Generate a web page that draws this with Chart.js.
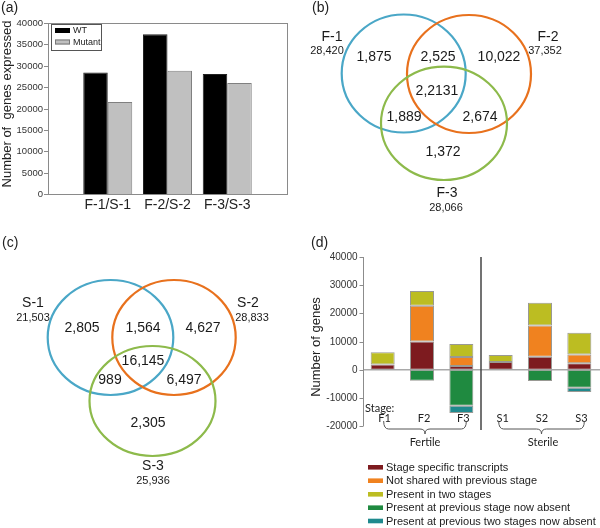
<!DOCTYPE html>
<html><head><meta charset="utf-8">
<script src="https://cdn.jsdelivr.net/npm/chart.js@4.4.1/dist/chart.umd.min.js"></script>
<style>
html,body{margin:0;padding:0;background:#fff;width:600px;height:528px;overflow:hidden}
canvas{position:absolute;display:block}
</style></head><body>
<canvas id="ca" width="300" height="230" style="left:0;top:0;width:300px;height:230px"></canvas>
<canvas id="cb" width="300" height="230" style="left:300px;top:0;width:300px;height:230px"></canvas>
<canvas id="cc" width="300" height="270" style="left:0;top:230px;width:300px;height:270px"></canvas>
<canvas id="cd" width="300" height="298" style="left:300px;top:230px;width:300px;height:298px"></canvas>
<script>
// ---------------- DATA ----------------
// (a) number of genes expressed
const CATEGORIES_A = ['F-1/S-1', 'F-2/S-2', 'F-3/S-3'];
const WT_EXPRESSED = [28420, 37352, 28066];
const MUTANT_EXPRESSED = [21503, 28833, 25936];
const SERIES_A = ['WT', 'Mutant'];
const Y_TICKS_A = [0, 5000, 10000, 15000, 20000, 25000, 30000, 35000, 40000];

// (b) fertile Venn
const FERTILE_SETS = ['F-1', 'F-2', 'F-3'];
const FERTILE_TOTALS = ['28,420', '37,352', '28,066'];
// order: only1, 1&2, only2, all, 1&3, 2&3, only3
const FERTILE_REGIONS = ['1,875', '2,525', '10,022', '2,2131', '1,889', '2,674', '1,372'];

// (c) sterile Venn
const STERILE_SETS = ['S-1', 'S-2', 'S-3'];
const STERILE_TOTALS = ['21,503', '28,833', '25,936'];
const STERILE_REGIONS = ['2,805', '1,564', '4,627', '16,145', '989', '6,497', '2,305'];

// (d) stage transitions
const STAGES = ['F1', 'F2', 'F3', 'S1', 'S2', 'S3'];
const STAGE_SPECIFIC = [1800, 10000, 1300, 2700, 4600, 2300];
const NOT_SHARED_PREV = [null, 12700, 3200, null, 11100, 3100];
const PRESENT_TWO = [4400, 5200, 4600, 2500, 8100, 7700];
const PREV_NOW_ABSENT = [null, -3900, -12800, null, -4000, -6400];
const PREV_TWO_NOW_ABSENT = [null, null, -2600, null, null, -1500];
const SERIES_D = ['Stage specific transcripts', 'Not shared with previous stage', 'Present in two stages',
                  'Present at previous stage now absent', 'Present at previous two stages now absent'];
const Y_TICKS_D = [-20000, -10000, 0, 10000, 20000, 30000, 40000];
const GROUPS_D = ['Fertile', 'Sterile'];

// ---------------- STYLE / LAYOUT ----------------
const ARIAL = '"Liberation Sans", Arial, sans-serif';
const CALIB = 'Lato, "Open Sans", sans-serif';
const COLORS_D = ['#7d1b1f', '#f0821f', '#bcbd22', '#1f8a40', '#1f8a8e'];
const VENN_COLORS = ['#4aa7c7', '#e8711d', '#8dba4b'];

function txt(ctx, s, x, y, font, align, color) {
  ctx.font = font; ctx.textAlign = align || 'center'; ctx.textBaseline = 'middle';
  ctx.fillStyle = color || '#1a1a1a'; ctx.fillText(s, x, y);
}

// ---------------- PANEL A ----------------
const plugA = {
  id: 'plugA',
  afterDraw(chart) {
    const { ctx, chartArea: a, scales: { x, y } } = chart;
    ctx.save();
    ctx.strokeStyle = '#8a8a8a'; ctx.lineWidth = 1;
    ctx.strokeRect(Math.round(a.left) + 0.5, Math.round(a.top) + 0.5, Math.round(a.right - a.left), Math.round(a.bottom - a.top));
    Y_TICKS_A.forEach(v => {
      const py = Math.round(y.getPixelForValue(v)) + 0.5;
      ctx.beginPath(); ctx.moveTo(a.left - 4, py); ctx.lineTo(a.left, py); ctx.stroke();
      txt(ctx, String(v), a.left - 5, py, '9.5px ' + ARIAL, 'right', '#333');
    });
    CATEGORIES_A.forEach((c, i) => {
      txt(ctx, c, x.getPixelForValue(i + 1), a.bottom + 11.5, '14px ' + ARIAL, 'center', '#222');
    });
    ctx.save(); ctx.translate(7, 104); ctx.rotate(-Math.PI / 2);
    txt(ctx, 'Number of  genes expressed', 0, 0, '13px ' + ARIAL, 'center', '#222');
    ctx.restore();
    // legend
    ctx.strokeStyle = '#555'; ctx.strokeRect(51.5, 24.5, 50, 26);
    const ds = chart.data.datasets;
    [30.5, 42].forEach((yy, i) => {
      ctx.fillStyle = ds[i].backgroundColor;
      ctx.fillRect(55, yy - 2.5, 15, 5);
      if (i === 1) { ctx.strokeStyle = '#777'; ctx.strokeRect(55.5, yy - 2, 14, 4); }
      txt(ctx, SERIES_A[i], 73, yy + 0.5, '9px ' + ARIAL, 'left', '#222');
    });
    txt(ctx, '(a)', 1, 8.5, '14px ' + ARIAL, 'left', '#222');
    ctx.restore();
  }
};

new Chart(document.getElementById('ca'), {
  type: 'bar',
  data: {
    labels: ['', ...CATEGORIES_A, ''],
    datasets: [
      { label: SERIES_A[0], data: [null, ...WT_EXPRESSED, null], backgroundColor: '#000000', borderColor: '#222', borderWidth: 1, borderSkipped: 'start' },
      { label: SERIES_A[1], data: [null, ...MUTANT_EXPRESSED, null], backgroundColor: '#c0c0c0', borderColor: '#808080', borderWidth: 1, borderSkipped: 'start' }
    ]
  },
  options: {
    responsive: false, animation: false, devicePixelRatio: 1,
    layout: { padding: { left: 48, right: 13, top: 23, bottom: 36 } },
    categoryPercentage: 0.82, barPercentage: 1.0,
    scales: {
      x: { type: 'category', offset: false, display: false },
      y: { min: 0, max: 40000, display: false }
    },
    plugins: { legend: { display: false }, tooltip: { enabled: false } }
  },
  plugins: [plugA]
});

// ---------------- VENN PANELS ----------------
function makeVenn(id, w, h, sets, totals, regions, L) {
  const plug = {
    id: 'venn' + id,
    afterDraw(chart) {
      const { ctx, scales: { x, y } } = chart;
      ctx.save();
      L.circles.forEach((c, i) => {
        const px = x.getPixelForValue(c[0]), py = y.getPixelForValue(c[1]);
        const rx = Math.abs(x.getPixelForValue(c[0] + c[2]) - px);
        const ry = Math.abs(y.getPixelForValue(c[1] + c[3]) - py);
        ctx.beginPath(); ctx.ellipse(px, py, rx, ry, 0, 0, Math.PI * 2);
        ctx.strokeStyle = VENN_COLORS[i]; ctx.lineWidth = 2.2; ctx.stroke();
      });
      sets.forEach((s, i) => {
        txt(ctx, s, x.getPixelForValue(L.names[i][0]), y.getPixelForValue(L.names[i][1]), '14px ' + ARIAL, 'center', '#1a1a1a');
        txt(ctx, totals[i], x.getPixelForValue(L.totals[i][0]), y.getPixelForValue(L.totals[i][1]), '11px ' + ARIAL, 'center', '#1a1a1a');
      });
      regions.forEach((r, i) => {
        txt(ctx, r, x.getPixelForValue(L.regions[i][0]), y.getPixelForValue(L.regions[i][1]), '14px ' + ARIAL, 'center', '#1a1a1a');
      });
      txt(ctx, L.panel, L.panelPos[0], L.panelPos[1], '14px ' + ARIAL, 'left', '#222');
      ctx.restore();
    }
  };
  new Chart(document.getElementById(id), {
    type: 'scatter',
    data: { datasets: [] },
    options: {
      responsive: false, animation: false, devicePixelRatio: 1,
      layout: { padding: 0 },
      scales: {
        x: { type: 'linear', min: 0, max: w, display: false },
        y: { type: 'linear', min: 0, max: h, reverse: true, display: false }
      },
      plugins: { legend: { display: false }, tooltip: { enabled: false } }
    },
    plugins: [plug]
  });
}

makeVenn('cb', 300, 230, FERTILE_SETS, FERTILE_TOTALS, FERTILE_REGIONS, {
  circles: [[103.7, 73.5, 62, 59], [169, 74, 62, 59], [144, 123.3, 63, 56.7]],
  names: [[32, 37], [248, 37], [147, 193]],
  totals: [[27, 50.5], [245, 50.5], [146, 208]],
  regions: [[74, 57], [138, 57], [199, 57], [137, 91], [104, 117], [180, 117], [143, 152]],
  panel: '(b)', panelPos: [12, 8.5]
});
makeVenn('cc', 300, 270, STERILE_SETS, STERILE_TOTALS, STERILE_REGIONS, {
  circles: [[110.5, 107.5, 62.8, 57.5], [174, 107.5, 61.7, 57.5], [152.5, 171, 63, 55]],
  names: [[33, 73], [248, 73], [153, 236]],
  totals: [[33, 88], [252, 88], [153, 251]],
  regions: [[82, 98], [143, 98], [203, 98], [143, 131], [110, 150], [184, 150], [148, 193]],
  panel: '(c)', panelPos: [2, 13]
});
</script>
<script>
// ---------------- PANEL D ----------------
const plugDZero = {
  id: 'plugDZero',
  afterDatasetsDraw(chart) {
    const { ctx, chartArea: a, scales: { y } } = chart;
    ctx.save();
    const z = y.getPixelForValue(0);
    ctx.strokeStyle = 'rgba(160,160,160,0.9)'; ctx.lineWidth = 1.5;
    ctx.beginPath(); ctx.moveTo(a.left, z); ctx.lineTo(chart.width, z); ctx.stroke();
    ctx.restore();
  }
};
function brace(ctx, x1, x2, y0) {
  const h = 8, tip = 5, r = 5, xm = (x1 + x2) / 2;
  ctx.beginPath();
  ctx.moveTo(x1, y0);
  ctx.quadraticCurveTo(x1, y0 + h, x1 + r, y0 + h);
  ctx.lineTo(xm - r, y0 + h);
  ctx.quadraticCurveTo(xm, y0 + h, xm, y0 + h + tip);
  ctx.quadraticCurveTo(xm, y0 + h, xm + r, y0 + h);
  ctx.lineTo(x2 - r, y0 + h);
  ctx.quadraticCurveTo(x2, y0 + h, x2, y0);
  ctx.stroke();
}
const plugD = {
  id: 'plugD',
  afterDraw(chart) {
    const { ctx, chartArea: a, scales: { x, y } } = chart;
    ctx.save();
    // y axis
    ctx.strokeStyle = '#8c8c8c'; ctx.lineWidth = 1;
    const ax = Math.round(a.left) + 0.5;
    ctx.beginPath(); ctx.moveTo(ax, a.top); ctx.lineTo(ax, a.bottom); ctx.stroke();
    Y_TICKS_D.forEach(v => {
      const py = Math.round(y.getPixelForValue(v)) + 0.5;
      ctx.beginPath(); ctx.moveTo(ax - 4, py); ctx.lineTo(ax, py); ctx.stroke();
      txt(ctx, String(v), ax - 6, py, '10px ' + ARIAL, 'right', '#333');
    });
    ctx.save(); ctx.translate(16, 117); ctx.rotate(-Math.PI / 2);
    txt(ctx, 'Number of genes', 0, 0, '13px ' + ARIAL, 'center', '#222');
    ctx.restore();
    // divider
    const dx = (x.getPixelForValue(2) + x.getPixelForValue(3)) / 2;
    ctx.strokeStyle = '#444'; ctx.lineWidth = 1.5;
    ctx.beginPath(); ctx.moveTo(dx, a.top); ctx.lineTo(dx, a.bottom + 4); ctx.stroke();
    // stage labels
    txt(ctx, 'Stage:', 65, 178, '11px ' + CALIB, 'left', '#222');
    STAGES.forEach((s, i) => txt(ctx, s, x.getPixelForValue(i) + 2, 188, '11px ' + CALIB, 'center', '#222'));
    ctx.strokeStyle = '#555'; ctx.lineWidth = 1;
    brace(ctx, x.getPixelForValue(0) + 1, x.getPixelForValue(2) + 5, 191);
    brace(ctx, x.getPixelForValue(3) - 2, x.getPixelForValue(5) + 5, 191);
    GROUPS_D.forEach((g, i) => {
      const xm = (x.getPixelForValue(i * 3) + x.getPixelForValue(i * 3 + 2)) / 2 + 3;
      txt(ctx, g, xm, 212, '11px ' + CALIB, 'center', '#222');
    });
    // legend
    const rows = [237.3, 250.7, 264.3, 277.7, 291];
    SERIES_D.forEach((s, i) => {
      ctx.fillStyle = COLORS_D[i];
      ctx.fillRect(68, rows[i] - 2.3, 15, 4.6);
      txt(ctx, s, 86, rows[i] + 0.5, '11px ' + ARIAL, 'left', '#222');
    });
    txt(ctx, '(d)', 11, 13, '14px ' + ARIAL, 'left', '#222');
    ctx.restore();
  }
};

const seriesD = [STAGE_SPECIFIC, NOT_SHARED_PREV, PRESENT_TWO, PREV_NOW_ABSENT, PREV_TWO_NOW_ABSENT];
new Chart(document.getElementById('cd'), {
  type: 'bar',
  data: {
    labels: STAGES,
    datasets: seriesD.map((d, i) => ({
      label: SERIES_D[i], data: d, backgroundColor: COLORS_D[i],
      borderColor: 'rgba(70,70,60,0.55)', borderWidth: 1, borderSkipped: false
    }))
  },
  options: {
    responsive: false, animation: false, devicePixelRatio: 1,
    layout: { padding: { left: 63, right: 1, top: 27, bottom: 102 } },
    categoryPercentage: 0.61, barPercentage: 1.0,
    scales: {
      x: { stacked: true, display: false },
      y: { stacked: true, min: -20000, max: 40000, display: false }
    },
    plugins: { legend: { display: false }, tooltip: { enabled: false } }
  },
  plugins: [plugDZero, plugD]
});
</script>
</body></html>
